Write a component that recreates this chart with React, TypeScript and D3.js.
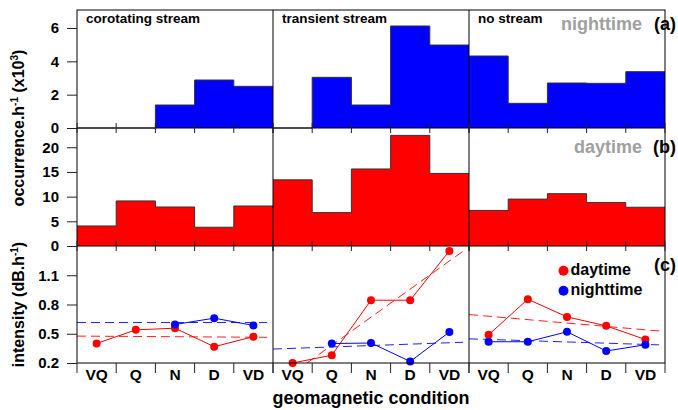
import React, { useEffect, useRef } from "react";
import * as d3 from "d3";

const conditions = ["VQ", "Q", "N", "D", "VD"];
const streams = ["corotating stream", "transient stream", "no stream"];

// (a) nighttime occurrence.h-1 (x10^3)
const nightCorotating = [0, 0, 1.38, 2.88, 2.5];
const nightTransient = [0, 3.04, 1.38, 6.12, 4.98];
const nightNoStream = [4.32, 1.48, 2.7, 2.68, 3.38];

// (b) daytime occurrence.h-1
const dayCorotating = [4.06, 9.13, 7.9, 3.8, 8.1];
const dayTransient = [13.4, 6.76, 15.6, 22.4, 14.7];
const dayNoStream = [7.2, 9.5, 10.6, 8.8, 7.85];

// (c) intensity (dB.h-1), null where there is no event
const dayIntCorotating = [0.4, 0.54, 0.557, 0.367, 0.47];
const dayIntTransient = [0.2, 0.28, 0.844, 0.844, 1.35];
const dayIntNoStream = [0.489, 0.854, 0.673, 0.581, 0.441];
const nightIntCorotating = [null, null, 0.595, 0.66, 0.585];
const nightIntTransient = [null, 0.4, 0.405, 0.216, 0.517];
const nightIntNoStream = [0.418, 0.418, 0.52, 0.323, 0.387];

// dashed fits, value at start and end of each panel
const dayTrend = [[0.476, 0.463], [-0.05, 1.39], [0.697, 0.523]];
const nightTrend = [[0.615, 0.615], [0.343, 0.415], [0.448, 0.384]];

const nightTicks = [0, 2, 4, 6];
const dayTicks = [0, 5, 10, 15, 20];
const intensityTicks = [0.2, 0.5, 0.8, 1.1];

const FONT = "'Liberation Sans', Arial, Helvetica, sans-serif";

const App = () => {
  const ref = useRef<SVGSVGElement>(null);

  useEffect(() => {
    const nights = [nightCorotating, nightTransient, nightNoStream];
    const days = [dayCorotating, dayTransient, dayNoStream];
    const dayInt = [dayIntCorotating, dayIntTransient, dayIntNoStream];
    const nightInt = [nightIntCorotating, nightIntTransient, nightIntNoStream];

    const left = 77;
    const right = 665;
    const top = 10;
    const rowA = 128;
    const rowB = 246;
    const bottom = 363;
    const panelW = (right - left) / 3;
    const trendEnd = 4.85;

    const svg = d3.select(ref.current);
    svg.selectAll("*").remove();
    svg.style("font-family", FONT).style("font-weight", "bold");

    const xs = streams.map((_, p) =>
      d3.scaleLinear().domain([0, 5]).range([left + p * panelW, left + (p + 1) * panelW])
    );
    const yA = d3.scaleLinear().domain([0, 7.08]).range([rowA, top]);
    const yB = d3.scaleLinear().domain([0, 23.9]).range([rowB, rowA]);
    const yC = d3.scaleLinear().domain([0.2, 1.4]).range([bottom, rowB]);

    // histograms
    const drawSteps = (vals: number[][], y: d3.ScaleLinear<number, number>, color: string) => {
      vals.forEach((v, p) => {
        const pts: [number, number][] = v.map((d, i) => [i, d]);
        pts.push([5, v[4]]);
        const area = d3
          .area<[number, number]>()
          .curve(d3.curveStepAfter)
          .x((d) => xs[p](d[0]))
          .y0(y(0))
          .y1((d) => y(d[1]));
        const line = d3
          .line<[number, number]>()
          .curve(d3.curveStepAfter)
          .x((d) => xs[p](d[0]))
          .y((d) => y(d[1]));
        svg.append("path").datum(pts).attr("fill", color).attr("d", area);
        svg
          .append("path")
          .datum(pts)
          .attr("fill", "none")
          .attr("stroke", "#333")
          .attr("stroke-width", 1)
          .attr("d", line);
      });
    };
    drawSteps(nights, yA, "#0000ff");
    drawSteps(days, yB, "#ff0000");

    // clip for panel (c)
    svg
      .append("clipPath")
      .attr("id", "clipC")
      .append("rect")
      .attr("x", left)
      .attr("y", rowB)
      .attr("width", right - left)
      .attr("height", bottom - rowB);

    const trendLine = (p: number, t: number[], color: string) => {
      svg
        .append("line")
        .attr("clip-path", "url(#clipC)")
        .attr("x1", xs[p](0))
        .attr("x2", xs[p](trendEnd))
        .attr("y1", yC(t[0]))
        .attr("y2", yC(t[0] + ((t[1] - t[0]) * trendEnd) / 5))
        .attr("stroke", color)
        .attr("stroke-width", 1)
        .attr("stroke-dasharray", "9,5");
    };
    dayTrend.forEach((t, p) => trendLine(p, t, "#ff2020"));
    nightTrend.forEach((t, p) => trendLine(p, t, "#2020ff"));

    const drawSeries = (vals: (number | null)[][], color: string) => {
      vals.forEach((v, p) => {
        const line = d3
          .line<number | null>()
          .defined((d) => d != null)
          .x((_, i) => xs[p](i + 0.5))
          .y((d) => yC(d as number));
        svg
          .append("path")
          .datum(v)
          .attr("fill", "none")
          .attr("stroke", color)
          .attr("stroke-width", 1)
          .attr("d", line);
        v.forEach((d, i) => {
          if (d == null) return;
          svg
            .append("circle")
            .attr("cx", xs[p](i + 0.5))
            .attr("cy", yC(d))
            .attr("r", 4)
            .attr("fill", color);
        });
      });
    };
    drawSeries(dayInt, "#ff0000");
    drawSeries(nightInt, "#0000ff");

    // frame
    const frame = svg.append("g").attr("stroke", "#000").attr("stroke-width", 1).attr("fill", "none");
    frame.append("rect").attr("x", left).attr("y", top).attr("width", right - left).attr("height", bottom - top);
    [rowA, rowB].forEach((y) =>
      frame.append("line").attr("x1", left).attr("x2", right).attr("y1", y).attr("y2", y)
    );
    [1, 2].forEach((p) =>
      frame.append("line").attr("x1", xs[p](0)).attr("x2", xs[p](0)).attr("y1", top).attr("y2", bottom)
    );

    // category boundary ticks
    const ticks = svg.append("g").attr("stroke", "#222").attr("stroke-width", 1);
    xs.forEach((x) => {
      d3.range(6).forEach((i) => {
        [rowA, rowB].forEach((y) =>
          ticks.append("line").attr("x1", x(i)).attr("x2", x(i)).attr("y1", y - 5).attr("y2", y + 5)
        );
        ticks.append("line").attr("x1", x(i)).attr("x2", x(i)).attr("y1", bottom).attr("y2", bottom + 10);
      });
    });

    // x category labels
    xs.forEach((x) => {
      conditions.forEach((c, i) => {
        svg
          .append("text")
          .attr("x", x(i + 0.5))
          .attr("y", 380)
          .attr("text-anchor", "middle")
          .attr("font-size", 15.5)
          .text(c);
      });
    });

    // y axes
    const yAxis = (scale: d3.ScaleLinear<number, number>, vals: number[]) => {
      const g = svg
        .append("g")
        .attr("transform", `translate(${left},0)`)
        .call(d3.axisLeft(scale).tickValues(vals).tickSize(10).tickPadding(8).tickSizeOuter(0).tickFormat(d3.format("")));
      g.select(".domain").remove();
      g.attr("font-family", FONT).attr("font-size", 15).attr("font-weight", "bold");
      g.selectAll("line").attr("stroke", "#222");
      g.selectAll("text").attr("fill", "#000");
    };
    yAxis(yA, nightTicks);
    yAxis(yB, dayTicks);
    yAxis(yC, intensityTicks);

    // panel titles
    streams.forEach((s, p) => {
      svg
        .append("text")
        .attr("x", xs[p](0) + 9)
        .attr("y", 22.5)
        .attr("font-size", 13.5)
        .text(s);
    });

    const corner = (label: string, letter: string, y: number, gray: boolean) => {
      if (label)
        svg
          .append("text")
          .attr("x", 642)
          .attr("y", y)
          .attr("text-anchor", "end")
          .attr("font-size", 18)
          .attr("fill", gray ? "#a0a0a0" : "#000")
          .text(label);
      svg
        .append("text")
        .attr("x", 676)
        .attr("y", y)
        .attr("text-anchor", "end")
        .attr("font-size", 18)
        .text(letter);
    };
    corner("nighttime", "(a)", 30, true);
    corner("daytime", "(b)", 152.5, true);
    corner("", "(c)", 271, false);

    // legend
    [
      ["daytime", "#ff0000", 270.7],
      ["nighttime", "#0000ff", 290.7],
    ].forEach(([name, color, y]) => {
      svg.append("circle").attr("cx", 563.5).attr("cy", y as number).attr("r", 5).attr("fill", color as string);
      svg
        .append("text")
        .attr("x", 570.5)
        .attr("y", (y as number) + 4.5)
        .attr("font-size", 16)
        .text(name as string);
    });

    // axis titles
    const occ = svg
      .append("text")
      .attr("transform", `translate(24,${rowA}) rotate(-90)`)
      .attr("text-anchor", "middle")
      .attr("font-size", 16);
    occ.append("tspan").text("occurrence.h");
    occ.append("tspan").attr("dy", -6).attr("font-size", 10).text("-1");
    occ.append("tspan").attr("dy", 6).text(" (x10");
    occ.append("tspan").attr("dy", -6).attr("font-size", 10).text("3");
    occ.append("tspan").attr("dy", 6).text(")");

    const inten = svg
      .append("text")
      .attr("transform", `translate(24,${(rowB + bottom) / 2}) rotate(-90)`)
      .attr("text-anchor", "middle")
      .attr("font-size", 16);
    inten.append("tspan").text("intensity (dB.h");
    inten.append("tspan").attr("dy", -6).attr("font-size", 10).text("-1");
    inten.append("tspan").attr("dy", 6).text(")");

    svg
      .append("text")
      .attr("x", (left + right) / 2)
      .attr("y", 403.5)
      .attr("text-anchor", "middle")
      .attr("font-size", 18)
      .text("geomagnetic condition");
  }, []);

  return (
    <svg
      ref={ref}
      width={678}
      height={410}
      style={{ position: "absolute", left: 0, top: 0, background: "#fff" }}
    />
  );
};

export default App;
